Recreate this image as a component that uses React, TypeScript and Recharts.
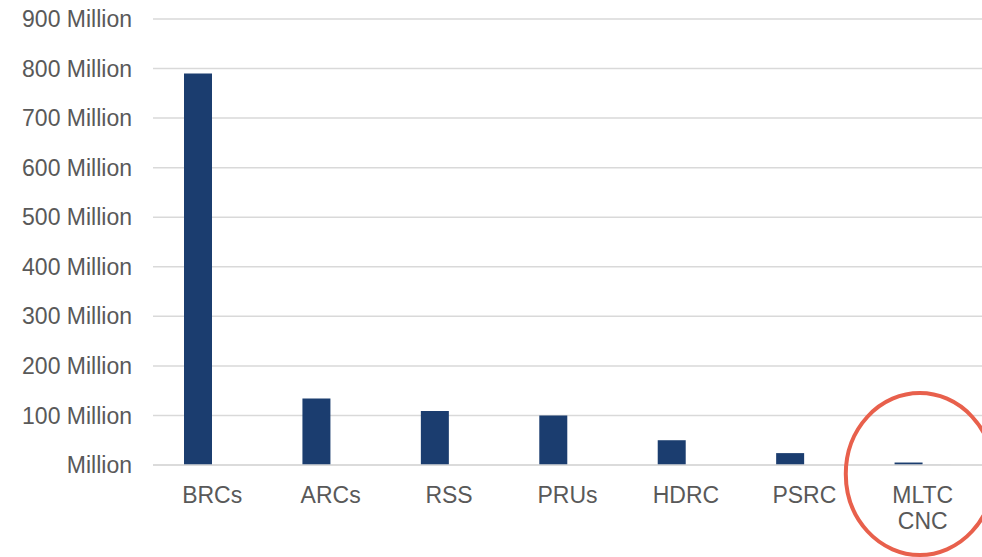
import React from "react";
import { BarChart, Bar, XAxis, YAxis, CartesianGrid, ReferenceDot } from "recharts";

const categories = ["BRCs", "ARCs", "RSS", "PRUs", "HDRC", "PSRC", "MLTC CNC"];
const fundingValues = [790, 134, 109, 100, 50, 24, 5];
const otherValues = [0, 0, 0, 0, 0, 0, 0.6];
const yTicks = [0, 100, 200, 300, 400, 500, 600, 700, 800, 900];

const data = categories.map((name, i) => ({
  name,
  value: fundingValues[i],
  other: otherValues[i],
}));

const TEXT = "#595959";
const FONT = "'Liberation Sans', Arial, sans-serif";

const XTick = (props: any) => {
  const { x, y, payload } = props;
  const lines = String(payload.value).split(" ");
  return (
    <text x={x} y={y} textAnchor="middle" fill={TEXT} fontSize={23} fontFamily={FONT}>
      {lines.map((l, i) => (
        <tspan key={i} x={x} dy={i === 0 ? 30 : 26}>
          {l}
        </tspan>
      ))}
    </text>
  );
};

export default function App() {
  return (
    <div style={{ position: "absolute", left: 0, top: 0, background: "#fff" }}>
      <BarChart
        width={982}
        height={557}
        data={data}
        margin={{ top: 19, right: 0, left: 0, bottom: 32 }}
        barGap={0}
        barSize={28}
      >
        <CartesianGrid vertical={false} stroke="#d9d9d9" strokeWidth={1.5} />
        <XAxis
          dataKey="name"
          tickLine={false}
          axisLine={{ stroke: "#d9d9d9", strokeWidth: 1.5 }}
          height={60}
          interval={0}
          tick={<XTick />}
        />
        <YAxis
          width={153}
          domain={[0, 900]}
          ticks={yTicks}
          interval={0}
          axisLine={false}
          tickLine={false}
          tickMargin={15}
          tick={{ fill: TEXT, fontSize: 23, fontFamily: FONT }}
          tickFormatter={(v: number) => (v === 0 ? "Million" : `${v} Million`)}
        />
        <Bar dataKey="value" fill="#1b3d6f" isAnimationActive={false} />
        <Bar dataKey="other" fill="#a9b8cc" isAnimationActive={false} />
        <ReferenceDot
          x="MLTC CNC"
          y={0}
          ifOverflow="visible"
          shape={(p: any) => (
            <ellipse
              cx={p.cx - 3}
              cy={p.cy + 9}
              rx={74}
              ry={81}
              fill="none"
              stroke="#e8604c"
              strokeWidth={4}
            />
          )}
        />
      </BarChart>
    </div>
  );
}
